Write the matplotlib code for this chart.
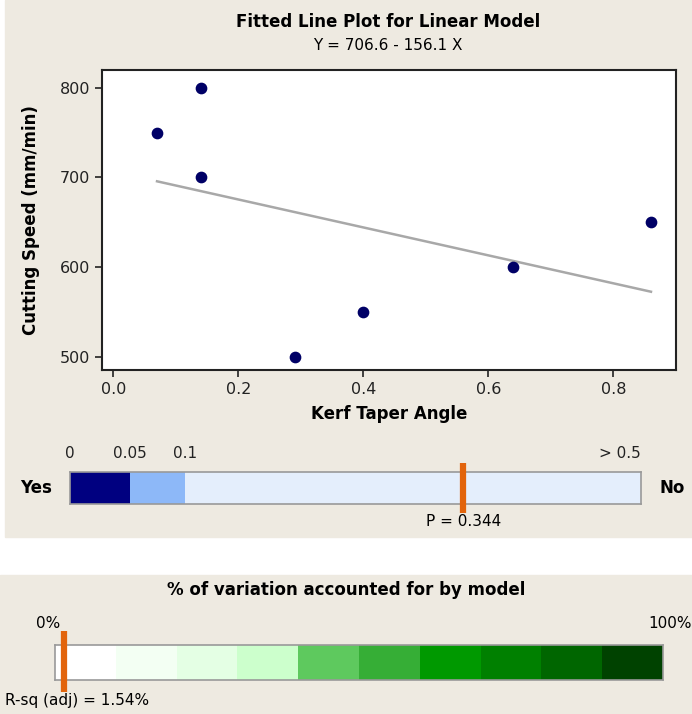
import matplotlib
matplotlib.use('Agg')
import matplotlib.pyplot as plt
from matplotlib.patches import Rectangle
import numpy as np

# data
kerf_taper = [0.07, 0.14, 0.14, 0.29, 0.40, 0.64, 0.86]
cutting_speed = [750, 800, 700, 500, 550, 600, 650]

p_value = 0.344
p_breaks = [0, 0.05, 0.1, 0.5]
p_labels = ['0', '0.05', '0.1', '> 0.5']
p_colors = ['#000080', '#8DB8F8', '#E4EEFC']

rsq_adj = 1.54
rsq_breaks = [0, 10, 20, 30, 40, 50, 60, 70, 80, 90, 100]
rsq_colors = ['#FFFFFF', '#F3FFF3', '#E4FFE4', '#CCFFCC', '#5EC95E',
              '#36AE36', '#009900', '#008000', '#006600', '#004200']

W, H = 692, 714
BG = '#EEEAE1'


def px_axes(fig, x0, y0, x1, y1):
    # pixel box (top-left origin) -> figure axes
    return fig.add_axes([x0 / W, 1 - y1 / H, (x1 - x0) / W, (y1 - y0) / H])


fig = plt.figure(figsize=(W / 100, H / 100), dpi=100, facecolor='white')

# beige panels behind everything
fig.patches.append(Rectangle((5 / W, 1 - 537 / H), 1 - 5 / W, 537 / H,
                             transform=fig.transFigure, color=BG, zorder=-10))
fig.patches.append(Rectangle((0, 0), 1, 1 - 575 / H,
                             transform=fig.transFigure, color=BG, zorder=-10))

# ---- fitted line plot ----
ax = px_axes(fig, 102, 70, 676, 370)
ax.set_facecolor('white')
slope, intercept = np.polyfit(kerf_taper, cutting_speed, 1)
xs = np.array([min(kerf_taper), max(kerf_taper)])
ax.plot(xs, intercept + slope * xs, color='#A8A8A8', lw=1.8, zorder=2)
ax.scatter(kerf_taper, cutting_speed, s=55, color='#000066', zorder=3)
ax.set_xlim(-0.018, 0.9)
ax.set_ylim(485, 820)
ax.set_xticks([0.0, 0.2, 0.4, 0.6, 0.8])
ax.set_yticks([500, 600, 700, 800])
ax.tick_params(labelsize=11.5, length=5, width=1.2, colors='#222222')
for s in ax.spines.values():
    s.set_linewidth(1.5)
    s.set_color('#222222')
ax.set_xlabel('Kerf Taper Angle', fontsize=12, fontweight='bold', labelpad=6)
ax.set_ylabel('Cutting Speed (mm/min)', fontsize=12, fontweight='bold', labelpad=14)
fig.text(388 / W, 1 - 22 / H, 'Fitted Line Plot for Linear Model',
         ha='center', va='center', fontsize=12, fontweight='bold')
fig.text(388 / W, 1 - 46 / H, f'Y = {intercept:.1f} - {-slope:.1f} X',
         ha='center', va='center', fontsize=11)

# ---- p-value bar ----
p_pos = [0, 60 / 571, 115 / 571, 1]
fwd = lambda v: np.interp(v, p_breaks, p_pos)
inv = lambda v: np.interp(v, p_pos, p_breaks)
axp = px_axes(fig, 70, 472, 641, 504)
axp.set_xscale('function', functions=(fwd, inv))
axp.set_xlim(0, 0.5)
axp.set_ylim(0, 1)
for lo, hi, c in zip(p_breaks[:-1], p_breaks[1:], p_colors):
    axp.axvspan(lo, hi, color=c, lw=0)
axp.set_yticks([])
axp.xaxis.tick_top()
axp.set_xticks(p_breaks)
axp.set_xticklabels(p_labels)
axp.tick_params(axis='x', length=0, labelsize=11, pad=8, colors='#222222')
axp.get_xticklabels()[-1].set_ha('right')
for s in axp.spines.values():
    s.set_color('#999999')
    s.set_linewidth(1.2)
axp.plot([p_value, p_value], [-0.28, 1.28], color='#E2640C', lw=4.5,
         solid_capstyle='butt', clip_on=False, zorder=5)
axp.text(p_value, -0.55, f'P = {p_value}', ha='center', va='center', fontsize=11)
axp.text(-0.06, 0.5, 'Yes', transform=axp.transAxes, ha='center', va='center',
         fontsize=12, fontweight='bold')
axp.text(1.055, 0.5, 'No', transform=axp.transAxes, ha='center', va='center',
         fontsize=12, fontweight='bold')

# ---- R-sq bar ----
axr = px_axes(fig, 55, 645, 663, 680)
axr.set_xlim(0, 100)
axr.set_ylim(0, 1)
for lo, hi, c in zip(rsq_breaks[:-1], rsq_breaks[1:], rsq_colors):
    axr.axvspan(lo, hi, color=c, lw=0)
axr.set_xticks([])
axr.set_yticks([])
for s in axr.spines.values():
    s.set_color('#999999')
    s.set_linewidth(1.2)
axr.plot([rsq_adj, rsq_adj], [-0.35, 1.4], color='#E2640C', lw=4.5,
         solid_capstyle='butt', clip_on=False, zorder=5)
fig.text(346 / W, 1 - 590 / H, '% of variation accounted for by model',
         ha='center', va='center', fontsize=12, fontweight='bold')
fig.text(48 / W, 1 - 623 / H, '0%', ha='center', va='center', fontsize=11)
fig.text(692 / W, 1 - 623 / H, '100%', ha='right', va='center', fontsize=11)
fig.text(5 / W, 1 - 700 / H, f'R-sq (adj) = {rsq_adj}%', ha='left', va='center',
         fontsize=11)

fig.savefig('out.png', dpi=100, facecolor=fig.get_facecolor())
